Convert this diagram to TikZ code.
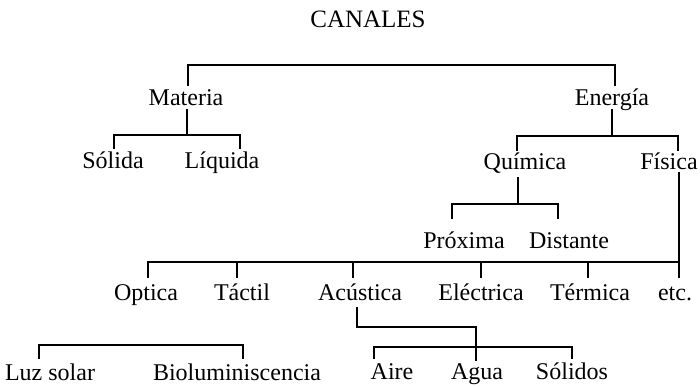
\documentclass[tikz,border=0pt]{standalone}
\usepackage{fontspec}
\setmainfont{Liberation Serif}
\begin{document}
\begin{tikzpicture}[x=1pt,y=-1pt,
  lbl/.style={anchor=base,inner sep=0pt,font=\fontsize{24}{28}\selectfont},
  ttl/.style={anchor=base,inner sep=0pt,font=\fontsize{25}{29}\selectfont},
  conn/.style={line width=2.6pt,line cap=rect}]
\useasboundingbox (0,0) rectangle (700,386);
% labels
\node[ttl] (canales) at (368,27) {CANALES};
\node[lbl] (materia) at (186,105) {Materia};
\node[lbl] (energia) at (612,105) {Energía};
\node[lbl] (solida) at (113,168) {Sólida};
\node[lbl] (liquida) at (222,168) {Líquida};
\node[lbl] (quimica) at (525,169) {Química};
\node[lbl] (fisica) at (669,169) {Física};
\node[lbl] (proxima) at (464,248) {Próxima};
\node[lbl] (distante) at (569,248) {Distante};
\node[lbl] (optica) at (146,300) {Optica};
\node[lbl] (tactil) at (242,300) {Táctil};
\node[lbl] (acustica) at (360,300) {Acústica};
\node[lbl] (electrica) at (481,300) {Eléctrica};
\node[lbl] (termica) at (590,300) {Térmica};
\node[lbl] (etc) at (675,300) {etc.};
\node[lbl] (luz) at (50,380) {Luz solar};
\node[lbl] (biolum) at (237,380) {Bioluminiscencia};
\node[lbl] (aire) at (392,379) {Aire};
\node[lbl] (agua) at (477,379) {Agua};
\node[lbl] (solidos) at (572,379) {Sólidos};
% junction coordinates
\coordinate (mTop) at (188,85);
\coordinate (eTop) at (615,85);
\coordinate (mBot) at (187,110);
\coordinate (sTop) at (114,148);
\coordinate (lTop) at (240,148);
\coordinate (eBot) at (612,110);
\coordinate (qTop) at (517,150);
\coordinate (fTop) at (678,150);
\coordinate (qBot) at (518,178);
\coordinate (pTop) at (452,218);
\coordinate (dTop) at (558,218);
\coordinate (fBot) at (679,173);
\coordinate (etcTop) at (679,277);
\coordinate (oTop) at (148,277);
\coordinate (tTop) at (237,277);
\coordinate (acTop) at (353,277);
\coordinate (elTop) at (481,277);
\coordinate (teTop) at (588,277);
\coordinate (acBot) at (357,308);
\coordinate (agTop) at (476,360);
\coordinate (aiTop) at (374,358);
\coordinate (soTop) at (572,358);
\coordinate (luTop) at (39,358);
\coordinate (biTop) at (243,358);
% connectors
\draw[conn] (mTop) |- (188,65) -| (eTop);
\draw[conn] (mBot) -- (187,135);
\draw[conn] (sTop) |- (187,135) -| (lTop);
\draw[conn] (eBot) -- (612,136);
\draw[conn] (qTop) |- (612,136) -| (fTop);
\draw[conn] (qBot) -- (518,204);
\draw[conn] (pTop) |- (518,204) -| (dTop);
\draw[conn] (fBot) -- (etcTop);
\draw[conn] (oTop) |- (679,262);
\draw[conn] (tTop) -- (237,262);
\draw[conn] (acTop) -- (353,262);
\draw[conn] (elTop) -- (481,262);
\draw[conn] (teTop) -- (588,262);
\draw[conn] (acBot) |- (476,327) -- (agTop);
\draw[conn] (aiTop) |- (476,347) -| (soTop);
\draw[conn] (luTop) |- (243,345) -- (biTop);
\end{tikzpicture}
\end{document}
